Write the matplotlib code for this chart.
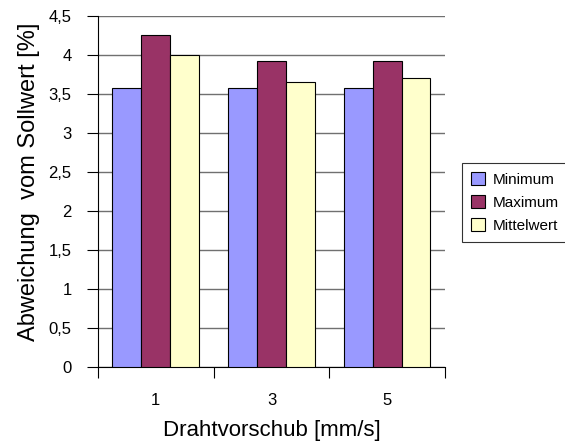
import numpy as np
import matplotlib.pyplot as plt

plt.rcParams['font.family'] = ['Liberation Sans', 'DejaVu Sans']

categories = ['1', '3', '5']
minimum = [3.58, 3.58, 3.58]
maximum = [4.26, 3.92, 3.92]
mittelwert = [4.0, 3.65, 3.71]

series = [('Minimum', minimum, '#9999FF'),
          ('Maximum', maximum, '#993366'),
          ('Mittelwert', mittelwert, '#FFFFCC')]

fig = plt.figure(figsize=(5.65, 4.48), dpi=100)
ax = fig.add_axes([0.1735, 0.1808, 0.614, 0.7832])

x = np.arange(len(categories)) + 0.5
w = 0.25
for i, (name, vals, col) in enumerate(series):
    ax.bar(x + (i - 1) * w, vals, width=w, color=col, edgecolor='black',
           linewidth=0.8, label=name, zorder=3)

ax.set_xlim(0, 3)
ax.set_ylim(0, 4.5)
yt = np.arange(0, 4.51, 0.5)
ax.set_yticks(yt)
ax.set_yticklabels([('%g' % v).replace('.', ',') for v in yt], fontsize=12)
ax.yaxis.grid(True, color='#707070', linewidth=1, zorder=0)

ax.set_xticks([0, 1, 2, 3])
ax.set_xticklabels([])
ax.set_xticks(x, minor=True)
ax.set_xticklabels(categories, minor=True, fontsize=12)
ax.tick_params(axis='x', which='minor', length=0, pad=19)
ax.tick_params(axis='x', which='major', length=8, direction='out')
ax.tick_params(axis='y', length=8, direction='out', pad=11)

ax.spines['top'].set_visible(False)
ax.spines['right'].set_visible(False)

ax.set_xlabel('Drahtvorschub [mm/s]', fontsize=16)
ax.set_ylabel('Abweichung  vom Sollwert [%]', fontsize=17)
ax.xaxis.set_label_coords(0.5, -0.151)
ax.yaxis.set_label_coords(-0.168, 0.527)

leg = fig.legend(loc='upper left', bbox_to_anchor=(0.8177, 0.636), fontsize=11,
                 frameon=True, fancybox=False, edgecolor='black',
                 handlelength=0.9, handleheight=0.9, borderpad=0.6,
                 labelspacing=0.55, handletextpad=0.5, borderaxespad=0)
leg.get_frame().set_linewidth(0.8)

plt.savefig('out.png', dpi=100)
